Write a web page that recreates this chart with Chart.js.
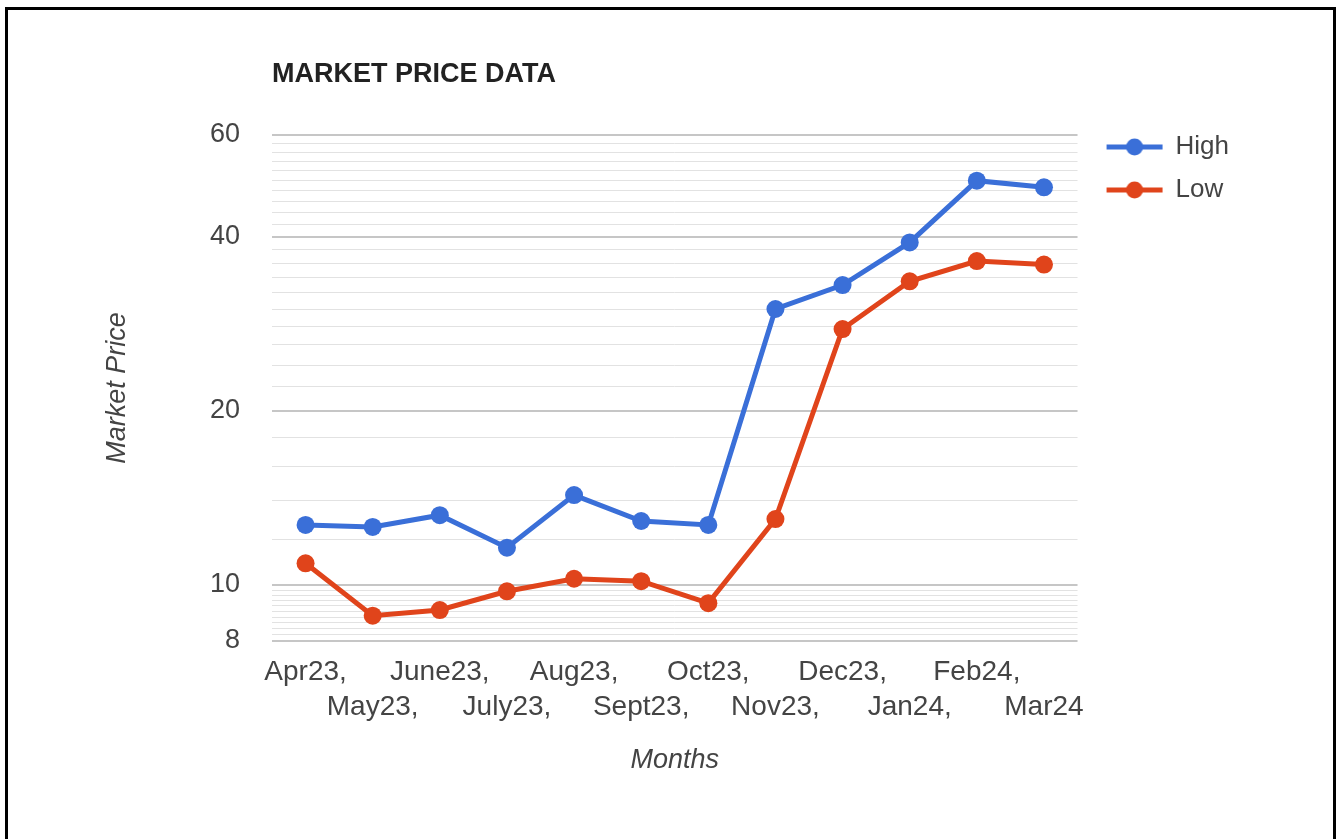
<!DOCTYPE html>
<html><head><meta charset="utf-8">
<script src="https://cdn.jsdelivr.net/npm/chart.js@4.4.1/dist/chart.umd.min.js"></script>
<style>
html,body{margin:0;padding:0;background:#fff;overflow:hidden;}
#wrap{position:relative;width:1339px;height:839px;background:#fff;}
#frame{position:absolute;left:5px;top:7px;width:1325px;height:900px;border:3px solid #000;border-bottom:none;pointer-events:none;}
canvas{position:absolute;left:0;top:0;}
</style></head><body>
<div id="wrap"><canvas id="c" width="1339" height="839"></canvas><div id="frame"></div></div>
<script>
// ---- data ----
const months = ['Apr23,', 'May23,', 'June23,', 'July23,', 'Aug23,', 'Sept23,', 'Oct23,', 'Nov23,', 'Dec23,', 'Jan24,', 'Feb24,', 'Mar24'];
const highValues = [12.7, 12.6, 13.2, 11.6, 14.3, 12.9, 12.7, 30.0, 33.0, 39.1, 50.0, 48.7];
const lowValues = [10.9, 8.85, 9.05, 9.75, 10.25, 10.15, 9.3, 13.0, 27.7, 33.5, 36.3, 35.8];
const seriesNames = ['High', 'Low'];
const yTickLabels = [8, 10, 20, 40, 60];
const chartTitle = 'MARKET PRICE DATA';
const xTitle = 'Months';
const yTitle = 'Market Price';

// ---- styling ----
const colors = ['#3a6fd8', '#e0441b'];
const FONT = "'Liberation Sans', Arial, sans-serif";

// gridline positions (log-scale minor grid like the original)
const gridValues = [];
for (let i = 0; i <= 10; i++) gridValues.push(+(8 + 0.2 * i).toFixed(1));
for (let v = 12; v <= 60; v += 2) gridValues.push(v);

function makeMarker(color) {
  const c = document.createElement('canvas');
  c.width = 80; c.height = 24;
  const g = c.getContext('2d');
  g.strokeStyle = color; g.lineWidth = 5;
  g.beginPath(); g.moveTo(18, 12); g.lineTo(74, 12); g.stroke();
  g.fillStyle = color;
  g.beginPath(); g.arc(46, 12, 8.5, 0, Math.PI * 2); g.fill();
  return c;
}
const markers = colors.map(makeMarker);

const ctx = document.getElementById('c').getContext('2d');
new Chart(ctx, {
  type: 'line',
  data: {
    labels: months,
    datasets: [
      { label: seriesNames[0], data: highValues, borderColor: colors[0], backgroundColor: colors[0],
        borderWidth: 5, pointRadius: 9, pointHoverRadius: 9, pointBorderWidth: 0, tension: 0 },
      { label: seriesNames[1], data: lowValues, borderColor: colors[1], backgroundColor: colors[1],
        borderWidth: 5, pointRadius: 9, pointHoverRadius: 9, pointBorderWidth: 0, tension: 0 }
    ]
  },
  options: {
    responsive: false,
    animation: false,
    devicePixelRatio: 1,
    layout: { padding: { left: 0, top: 0, right: 100, bottom: 0 } },
    plugins: {
      tooltip: { enabled: false },
      title: {
        display: true, text: chartTitle, align: 'start', fullSize: false,
        color: '#222', font: { family: FONT, size: 27, weight: 'bold', lineHeight: 1.2 },
        padding: { top: 58, bottom: 44.5 }
      },
      legend: {
        display: true, position: 'right', align: 'start', fullSize: true,
        title: { display: true, text: '', font: { size: 10, lineHeight: 1.2 }, padding: { top: 0, bottom: 105 } },
        labels: {
          usePointStyle: true, pointStyleWidth: 68, padding: 17,
          color: '#444', font: { family: FONT, size: 26 },
          generateLabels(chart) {
            const items = Chart.defaults.plugins.legend.labels.generateLabels(chart);
            items.forEach((it, i) => { it.pointStyle = markers[i]; });
            return items;
          }
        }
      }
    },
    scales: {
      x: {
        type: 'category', offset: true,
        grid: { display: false, drawTicks: false },
        border: { display: false },
        ticks: {
          autoSkip: false, maxRotation: 0, minRotation: 0, padding: 13.5,
          color: '#444', font: { family: FONT, size: 28, lineHeight: 1.25 },
          callback(value, index) {
            const lab = months[index];
            return index % 2 === 0 ? [lab, ''] : ['', lab];
          }
        },
        title: { display: true, text: xTitle, color: '#444',
          font: { family: FONT, size: 27, style: 'italic', lineHeight: 1.2 },
          padding: { top: 10, bottom: 62.8 } },
        afterFit(scale) { scale.height = 198; }
      },
      y: {
        type: 'logarithmic', min: 8, max: 60,
        grid: {
          drawTicks: false,
          color: c => yTickLabels.includes(c.tick && c.tick.value) ? '#c6c6c6' : '#e2e2e2',
          lineWidth: c => yTickLabels.includes(c.tick && c.tick.value) ? 2 : 1
        },
        border: { display: false },
        afterBuildTicks(scale) {
          scale.ticks = gridValues.map(v => ({ value: v, major: yTickLabels.includes(v) }));
        },
        ticks: {
          autoSkip: false, padding: 32, color: '#444',
          font: { family: FONT, size: 27 },
          callback(value) { return yTickLabels.includes(value) ? String(value) : ''; }
        },
        title: { display: true, text: yTitle, color: '#444',
          font: { family: FONT, size: 27, style: 'italic', lineHeight: 1.2 },
          padding: { top: 100.8, bottom: 10 } },
        afterFit(scale) { scale.width = 272; }
      }
    }
  }
});
</script>
</body></html>
